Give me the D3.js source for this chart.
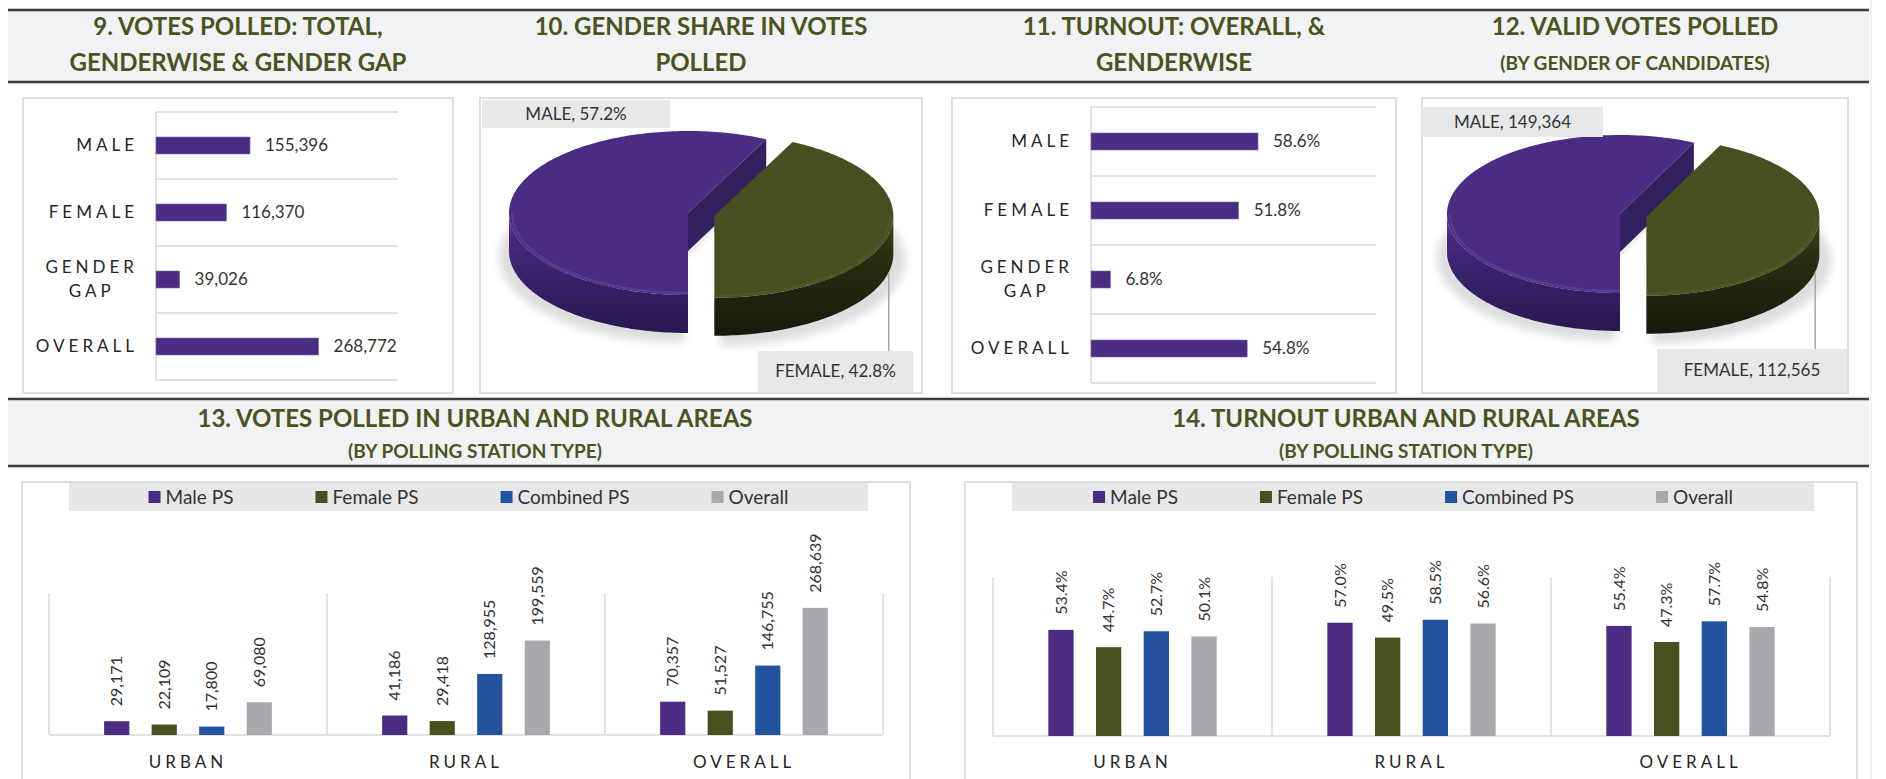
<!DOCTYPE html>
<html lang="en">
<head>
<meta charset="UTF-8">
<title>Votes polled and turnout</title>
<script src="https://d3js.org/d3.v7.min.js"></script>
<style>
  body { margin: 0; background: #fff; font-family: Lato, "Open Sans", sans-serif; }
  .title { font-weight: bold; fill: #4b5320; text-anchor: middle; }
  .cat { font-size: 17px; letter-spacing: 4px; fill: #262626; }
  .val { font-size: 17px; fill: #333; }
  .rot { font-size: 16px; fill: #333; }
  .legend text { font-size: 19px; fill: #333; }
  .pielab { font-size: 17px; fill: #333; text-anchor: middle; }
  .grid { stroke: #d9d9d9; stroke-width: 1.5; fill: none; }
  .box { fill: #fff; stroke: #dedede; stroke-width: 2; }
</style>
</head>
<body>
<svg id="chart" width="1886" height="779"></svg>
<script>
// ---- data ----
const genderCats = ["MALE", "FEMALE", "GENDER GAP", "OVERALL"];
const votesPolled = [155396, 116370, 39026, 268772];
const turnout = [0.586, 0.518, 0.068, 0.548];

const pieCats = ["MALE", "FEMALE"];
const voteShare = [0.572, 0.428];
const validVotes = [149364, 112565];

const areaCats = ["URBAN", "RURAL", "OVERALL"];
const psTypes = ["Male PS", "Female PS", "Combined PS", "Overall"];
const malePSVotes = [29171, 41186, 70357];
const femalePSVotes = [22109, 29418, 51527];
const combinedPSVotes = [17800, 128955, 146755];
const overallVotes = [69080, 199559, 268639];
const malePSTurnout = [0.534, 0.570, 0.554];
const femalePSTurnout = [0.447, 0.495, 0.473];
const combinedPSTurnout = [0.527, 0.585, 0.577];
const overallTurnout = [0.501, 0.566, 0.548];

const purple = "#4a2c82", olive = "#495020", blue = "#23529e", grey = "#a8a9ad";
const psColors = [purple, olive, blue, grey];

const svg = d3.select("#chart");
const defs = svg.append("defs");
defs.append("filter").attr("id", "blur")
  .attr("x", "-20%").attr("y", "-40%").attr("width", "140%").attr("height", "180%")
  .append("feGaussianBlur").attr("stdDeviation", 4);

function grad(id, stops) {
  const g = defs.append("linearGradient").attr("id", id)
    .attr("x1", 0).attr("y1", 0).attr("x2", 0).attr("y2", 1);
  stops.forEach(([o, c]) => g.append("stop").attr("offset", o).attr("stop-color", c));
}
grad("rimMale", [[0, "#5a3e9c"], [0.22, "#43297c"], [1, "#291851"]]);
grad("rimFemale", [[0, "#3f4619"], [0.3, "#2b3012"], [1, "#16190a"]]);

svg.append("rect").attr("width", 1886).attr("height", 779).attr("fill", "#fff");
svg.append("line").attr("x1", 1871).attr("x2", 1871).attr("y1", 0).attr("y2", 779)
  .attr("stroke", "#ececec").attr("stroke-width", 1.5);

// ---- header bands ----
function band(y0, y1) {
  svg.append("rect").attr("x", 8).attr("y", y0).attr("width", 1861).attr("height", y1 - y0)
    .attr("fill", "#f1f2f3");
  [y0, y1].forEach(y => svg.append("line").attr("x1", 8).attr("x2", 1869)
    .attr("y1", y).attr("y2", y).attr("stroke", "#3b3b3b").attr("stroke-width", 2.5));
}
band(10, 82);
band(399, 466);

function title(cx, lines) {
  lines.forEach(([txt, y, size]) => svg.append("text").attr("class", "title")
    .attr("x", cx).attr("y", y).style("font-size", size + "px").text(txt));
}
title(238, [["9. VOTES POLLED: TOTAL,", 35, 24], ["GENDERWISE & GENDER GAP", 71, 24]]);
title(701, [["10. GENDER SHARE IN VOTES", 35, 24], ["POLLED", 71, 24]]);
title(1174, [["11. TURNOUT: OVERALL, &", 35, 24], ["GENDERWISE", 71, 24]]);
title(1635, [["12. VALID VOTES POLLED", 35, 24], ["(BY GENDER OF CANDIDATES)", 70, 19]]);
title(475, [["13. VOTES POLLED IN URBAN AND RURAL AREAS", 427, 24], ["(BY POLLING STATION TYPE)", 458, 19]]);
title(1406, [["14. TURNOUT URBAN AND RURAL AREAS", 427, 24], ["(BY POLLING STATION TYPE)", 458, 19]]);

function box(x0, x1, y0, y1) {
  svg.append("rect").attr("class", "box").attr("x", x0).attr("y", y0)
    .attr("width", x1 - x0).attr("height", y1 - y0);
}

// ---- horizontal bar panels ----
function hbar(p) {
  box(p.bx0, p.bx1, 98, 393);
  const g = svg.append("g");
  const x = d3.scaleLinear().domain([0, p.max]).range([p.x0, p.x1]);
  const y = d3.scaleBand().domain(p.cats).range([p.y0, p.y1]);
  const lines = p.cats.map(c => y(c)).concat([p.y1]);
  g.selectAll(".hg").data(lines).join("line").attr("class", "grid")
    .attr("x1", p.x0).attr("x2", p.x1).attr("y1", d => d).attr("y2", d => d);
  g.append("line").attr("class", "grid").attr("x1", p.x0).attr("x2", p.x0)
    .attr("y1", p.y0).attr("y2", p.y1);
  const bh = 17;
  g.selectAll(".bar").data(p.values).join("rect")
    .attr("x", x(0)).attr("width", d => x(d) - x(0))
    .attr("y", (d, i) => y(p.cats[i]) + y.bandwidth() / 2 - bh / 2).attr("height", bh)
    .attr("fill", purple).attr("stroke", "#7e6bb0").attr("stroke-width", 0.6);
  g.selectAll(".val").data(p.values).join("text").attr("class", "val")
    .attr("x", d => x(d) + 15).attr("y", (d, i) => y(p.cats[i]) + y.bandwidth() / 2)
    .attr("dy", "0.35em").text(p.fmt);
  // category labels, multi-line ones centred as a block that is right aligned
  p.cats.forEach(c => {
    const parts = c.split(" ");
    const cy = y(c) + y.bandwidth() / 2;
    const lh = 24;
    const texts = parts.map((t, i) => g.append("text").attr("class", "cat")
      .attr("y", cy + (i - (parts.length - 1) / 2) * lh).attr("dy", "0.35em").text(t));
    const w = d3.max(texts, t => t.node().getComputedTextLength());
    texts.forEach(t => t.attr("text-anchor", "middle").attr("x", p.x0 - 20 - w / 2 + 2));
  });
}
hbar({bx0: 23, bx1: 453, x0: 156, x1: 398, y0: 112, y1: 380, max: 400000,
  cats: genderCats, values: votesPolled, fmt: d3.format(",")});
hbar({bx0: 952, bx1: 1396, x0: 1091, x1: 1376, y0: 107, y1: 383, max: 1,
  cats: genderCats, values: turnout, fmt: d3.format(".1%")});

// ---- 3D pies ----
const line = d3.line();
function ellPts(c, a0, a1, rx, ry, dz) {
  const n = Math.max(2, Math.ceil(Math.abs(a1 - a0) / 0.02));
  return d3.range(n + 1).map(i => {
    const a = a0 + (a1 - a0) * i / n;
    return [c[0] + rx * Math.sin(a), c[1] - ry * Math.cos(a) + dz];
  });
}
function frontRanges(a) {
  const out = [];
  for (let k = -1; k <= 2; k++) {
    const s = Math.max(a.startAngle, Math.PI / 2 + 2 * Math.PI * k);
    const e = Math.min(a.endAngle, 3 * Math.PI / 2 + 2 * Math.PI * k);
    if (e > s) out.push([s, e]);
  }
  return out;
}
function pie3d(p) {
  box(p.bx0, p.bx1, 98, 393);
  const g = svg.append("g");
  const arcs = d3.pie().sort(null).startAngle(Math.PI).endAngle(3 * Math.PI)(p.values);
  const {rx, ry, depth} = p;
  const centres = arcs.map((a, i) => {
    const m = (a.startAngle + a.endAngle) / 2;
    const e = p.explode[i];
    return [p.cx + e * Math.sin(m), p.cy - e * Math.cos(m) * ry / rx];
  });
  // soft shadow under each slice
  arcs.forEach((a, i) => {
    const c = [centres[i][0] + (i ? 6 : -4), centres[i][1] + depth + 6];
    g.append("path").attr("d", line([c].concat(ellPts(c, a.startAngle, a.endAngle, rx + 6, ry + 4, 0))) + "Z")
      .attr("fill", "#000").attr("opacity", 0.13).attr("filter", "url(#blur)");
  });
  arcs.forEach((a, i) => {
    const c = centres[i];
    // visible outer rim
    frontRanges(a).forEach(([s, e]) => {
      const pts = ellPts(c, s, e, rx, ry, 0).concat(ellPts(c, e, s, rx, ry, depth));
      g.append("path").attr("d", line(pts) + "Z").attr("fill", `url(#${p.rims[i]})`);
    });
    // cut faces that face the viewer
    [[a.endAngle, Math.sin(a.endAngle) > 0.01], [a.startAngle, Math.sin(a.startAngle) < -0.01]]
      .forEach(([ang, vis]) => {
        if (!vis) return;
        const r = [c[0] + rx * Math.sin(ang), c[1] - ry * Math.cos(ang)];
        g.append("path").attr("d", line([c, r, [r[0], r[1] + depth], [c[0], c[1] + depth]]) + "Z")
          .attr("fill", p.cuts[i]);
      });
    // top face
    g.append("path").attr("d", line([c].concat(ellPts(c, a.startAngle, a.endAngle, rx, ry, 0))) + "Z")
      .attr("fill", p.colors[i]);
    // bevel highlight along the front edge of the top
    frontRanges(a).forEach(([s, e]) => {
      g.append("path").attr("d", line(ellPts(c, s, e, rx - 3, ry - 2, 0)))
        .attr("fill", "none").attr("stroke", p.bevel[i]).attr("stroke-width", 2).attr("opacity", 0.45);
    });
  });
  // labels
  const fmt = p.fmt;
  const lb = p.labels;
  lb.forEach((l, i) => {
    g.append("rect").attr("x", l.x0).attr("y", l.y0).attr("width", l.x1 - l.x0)
      .attr("height", l.y1 - l.y0).attr("fill", "#e7e8e9");
    g.append("text").attr("class", "pielab").attr("x", (l.x0 + l.x1) / 2)
      .attr("y", (l.y0 + l.y1) / 2).attr("dy", "0.35em")
      .text(`${pieCats[i]}, ${fmt(p.values[i])}`);
  });
  // leader line for the female label
  const fa = arcs[1], fm = (fa.startAngle + fa.endAngle) / 2, fc = centres[1];
  const lx = fc[0] + rx * Math.sin(fm), ly = fc[1] - ry * Math.cos(fm) + depth;
  g.append("line").attr("x1", lx).attr("x2", lx).attr("y1", ly).attr("y2", lb[1].y0)
    .attr("stroke", "#a6a6a6").attr("stroke-width", 1.5);
}
const pieStyle = {colors: [purple, "#474e1f"], rims: ["rimMale", "rimFemale"],
  cuts: ["#32205f", "#2a2f12"], bevel: ["#6a52a8", "#5a6330"]};
pie3d(Object.assign({bx0: 480, bx1: 922, cx: 688, cy: 213, rx: 179, ry: 82, depth: 38, explode: [0, 27],
  values: voteShare, fmt: d3.format(".1%"),
  labels: [{x0: 482, x1: 670, y0: 100, y1: 128}, {x0: 758, x1: 913, y0: 351, y1: 392}]}, pieStyle));
pie3d(Object.assign({bx0: 1422, bx1: 1848, cx: 1620, cy: 214, rx: 173, ry: 79, depth: 38, explode: [0, 27],
  values: validVotes, fmt: d3.format(","),
  labels: [{x0: 1422, x1: 1603, y0: 107, y1: 137}, {x0: 1657, x1: 1847, y0: 349, y1: 392}]}, pieStyle));

// ---- vertical grouped bar panels ----
function vbar(p) {
  box(p.bx0, p.bx1, 482, 790);
  const g = svg.append("g");
  // legend band
  g.append("rect").attr("x", p.lx0).attr("y", 483).attr("width", p.lx1 - p.lx0)
    .attr("height", 28).attr("fill", "#e6e7e8");
  const lg = g.append("g").attr("class", "legend");
  const items = psTypes.map((t, i) => {
    const it = lg.append("g");
    it.append("rect").attr("width", 12).attr("height", 12).attr("y", -6).attr("fill", psColors[i]);
    const tx = it.append("text").attr("x", 17).attr("dy", "0.35em").text(t);
    return {it, w: 17 + tx.node().getComputedTextLength()};
  });
  const gap = 82;
  const total = d3.sum(items, d => d.w) + gap * (items.length - 1);
  let cx = p.lx0 + (p.lx1 - p.lx0 - total) / 2;
  items.forEach(d => { d.it.attr("transform", `translate(${cx},497)`); cx += d.w + gap; });

  const x0 = d3.scaleBand().domain(areaCats).range([p.x0, p.x1]);
  const x1 = d3.scaleBand().domain(psTypes).range([0, x0.bandwidth()])
    .paddingInner(0.47).paddingOuter(1.16);
  const y = d3.scaleLinear().domain([0, p.max]).range([p.yb, p.yt]);
  const seps = areaCats.map(c => x0(c)).concat([p.x1]);
  g.selectAll(".vs").data(seps).join("line").attr("class", "grid")
    .attr("x1", d => d).attr("x2", d => d).attr("y1", p.yt).attr("y2", p.yb);
  g.append("line").attr("class", "grid").attr("x1", p.x0).attr("x2", p.x1)
    .attr("y1", p.yb).attr("y2", p.yb);
  const cells = [];
  p.series.forEach((s, si) => s.forEach((v, ci) => cells.push({s: si, c: areaCats[ci], v})));
  g.selectAll(".vb").data(cells).join("rect")
    .attr("x", d => x0(d.c) + x1(psTypes[d.s])).attr("width", x1.bandwidth())
    .attr("y", d => y(d.v)).attr("height", d => y(0) - y(d.v))
    .attr("fill", d => psColors[d.s]);
  g.selectAll(".rot").data(cells).join("text").attr("class", "rot")
    .attr("transform", d => `translate(${x0(d.c) + x1(psTypes[d.s]) + x1.bandwidth() / 2},${y(d.v) - 15}) rotate(-90)`)
    .attr("dy", "0.35em").text(d => p.fmt(d.v));
  g.selectAll(".ac").data(areaCats).join("text").attr("class", "cat")
    .attr("x", d => x0(d) + x0.bandwidth() / 2).attr("y", 762).attr("dy", "0.35em")
    .attr("text-anchor", "middle").text(d => d);
}
vbar({bx0: 22, bx1: 910, lx0: 69, lx1: 868, x0: 49, x1: 883, yb: 735, yt: 593, max: 300000,
  series: [malePSVotes, femalePSVotes, combinedPSVotes, overallVotes], fmt: d3.format(",")});
vbar({bx0: 965, bx1: 1857, lx0: 1012, lx1: 1814, x0: 993, x1: 1830, yb: 736, yt: 577, max: 0.8,
  series: [malePSTurnout, femalePSTurnout, combinedPSTurnout, overallTurnout], fmt: d3.format(".1%")});
</script>
</body>
</html>
